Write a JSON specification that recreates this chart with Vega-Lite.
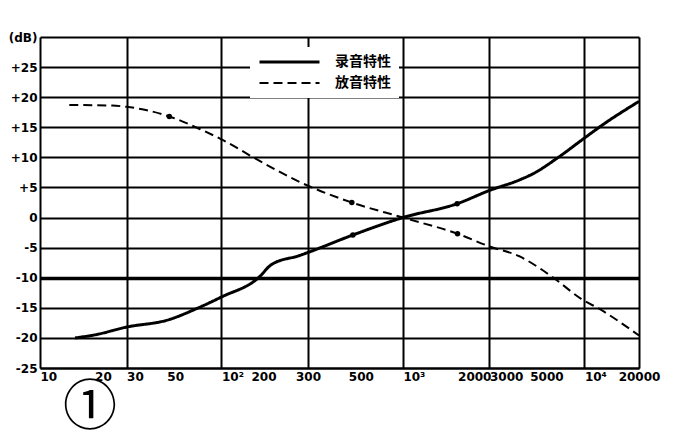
{
  "$schema": "https://vega.github.io/schema/vega-lite/v6.json",
  "width": 599,
  "height": 331,
  "autosize": {"type": "none"},
  "padding": {"left": 40, "top": 37, "right": 47, "bottom": 64},
  "background": "white",
  "config": {
    "view": {"stroke": null},
    "axis": {"labelFont": "DejaVu Sans", "labelFontWeight": "bold", "labelFontSize": 12, "labelColor": "black"}
  },
  "title": {"text": "①", "orient": "bottom", "anchor": "start", "frame": "group", "font": "Noto Sans CJK SC", "fontSize": 54, "fontWeight": "normal", "dx": 23, "offset": 0, "color": "black"},
  "datasets": {
    "curves": [
      {"f": 15.6, "db": -20, "s": "录音特性"},
      {"f": 20, "db": -19.5, "s": "录音特性"},
      {"f": 30, "db": -18.2, "s": "录音特性"},
      {"f": 50.9, "db": -17, "s": "录音特性"},
      {"f": 74.6, "db": -15, "s": "录音特性"},
      {"f": 100, "db": -13.2, "s": "录音特性"},
      {"f": 160, "db": -10, "s": "录音特性"},
      {"f": 189, "db": -7.8, "s": "录音特性"},
      {"f": 270, "db": -6.3, "s": "录音特性"},
      {"f": 300, "db": -5.8, "s": "录音特性"},
      {"f": 530, "db": -2.9, "s": "录音特性"},
      {"f": 1000, "db": 0, "s": "录音特性"},
      {"f": 1990, "db": 2.3, "s": "录音特性"},
      {"f": 3000, "db": 4.5, "s": "录音特性"},
      {"f": 4430, "db": 6.3, "s": "录音特性"},
      {"f": 5230, "db": 7.3, "s": "录音特性"},
      {"f": 7180, "db": 10, "s": "录音特性"},
      {"f": 10000, "db": 13.2, "s": "录音特性"},
      {"f": 12740, "db": 15.5, "s": "录音特性"},
      {"f": 20000, "db": 19.3, "s": "录音特性"},
      {"f": 14.5, "db": 18.7, "s": "放音特性"},
      {"f": 25, "db": 18.6, "s": "放音特性"},
      {"f": 30, "db": 18.4, "s": "放音特性"},
      {"f": 51.6, "db": 16.8, "s": "放音特性"},
      {"f": 78.6, "db": 14.5, "s": "放音特性"},
      {"f": 100, "db": 13, "s": "放音特性"},
      {"f": 156, "db": 9.7, "s": "放音特性"},
      {"f": 270, "db": 5.9, "s": "放音特性"},
      {"f": 523, "db": 2.5, "s": "放音特性"},
      {"f": 1000, "db": 0, "s": "放音特性"},
      {"f": 2000, "db": -2.7, "s": "放音特性"},
      {"f": 3000, "db": -4.8, "s": "放音特性"},
      {"f": 4430, "db": -6.5, "s": "放音特性"},
      {"f": 5720, "db": -8.5, "s": "放音特性"},
      {"f": 6750, "db": -10, "s": "放音特性"},
      {"f": 9600, "db": -13.5, "s": "放音特性"},
      {"f": 12440, "db": -15.4, "s": "放音特性"},
      {"f": 20000, "db": -19.6, "s": "放音特性"}
    ],
    "dots": [
      {"f": 51.6, "db": 16.8},
      {"f": 523, "db": 2.5},
      {"f": 530, "db": -2.9},
      {"f": 1990, "db": 2.3},
      {"f": 2000, "db": -2.7}
    ]
  },
  "layer": [
    {
      "data": {"name": "curves"},
      "mark": {"type": "line", "color": "black", "interpolate": "monotone"},
      "encoding": {
        "x": {
          "field": "f", "type": "quantitative",
          "scale": {"type": "log", "domain": [10, 20000], "nice": false},
          "axis": {
            "title": null,
            "values": [10, 20, 30, 50, 100, 200, 300, 500, 1000, 2000, 3000, 5000, 10000, 20000],
            "tickCount": 30,
            "labelExpr": "datum.value == 100 ? '10²' : datum.value == 1000 ? '10³' : datum.value == 10000 ? '10⁴' : toString(datum.value)",
            "labelOverlap": false,
            "labelFlush": false,
            "labelPadding": 3,
            "labelAlign": {"condition": [{"test": "datum.value == 200", "value": "right"}, {"test": "datum.value == 300 || datum.value == 20000", "value": "center"}], "value": "left"},
            "labelDx": {"condition": [{"test": "datum.value == 20 || datum.value == 50", "value": 8}, {"test": "datum.value == 2000 || datum.value == 3000", "value": 2}], "value": 0},
            "ticks": false,
            "domain": true, "domainColor": "black", "domainWidth": 2,
            "grid": true, "gridColor": "black", "gridWidth": 2,
            "gridOpacity": {"condition": {"test": "indexof([30,100,300,1000,3000,10000,20000], datum.value) >= 0", "value": 1}, "value": 0}
          }
        },
        "y": {
          "field": "db", "type": "quantitative",
          "scale": {"domain": [-25, 30], "nice": false},
          "axis": {
            "title": null,
            "values": [-25, -20, -15, -10, -5, 0, 5, 10, 15, 20, 25, 30],
            "tickCount": 30,
            "labelExpr": "datum.value == 30 ? '(dB)' : datum.value > 0 ? '+' + datum.value : toString(datum.value)",
            "labelOverlap": false,
            "labelFlush": false,
            "labelPadding": 3,
            "ticks": false,
            "domain": true, "domainColor": "black", "domainWidth": 2,
            "grid": true, "gridColor": "black",
            "gridWidth": {"condition": {"test": "datum.value == -10", "value": 3.5}, "value": 2}
          }
        },
        "strokeDash": {
          "field": "s", "type": "nominal",
          "scale": {"domain": ["录音特性", "放音特性"], "range": [[1, 0], [9, 5]]},
          "legend": {
            "title": null, "orient": "none", "legendX": 210, "legendY": 10,
            "fillColor": "white", "padding": 8,
            "symbolType": "stroke", "symbolSize": 3600, "symbolStrokeWidth": 3, "symbolStrokeColor": "black",
            "clipHeight": 14,
            "labelFont": "Noto Sans CJK SC", "labelFontSize": 14, "labelFontWeight": "bold", "labelColor": "black",
            "labelOffset": 14, "rowPadding": 7
          }
        },
        "strokeWidth": {
          "field": "s", "type": "nominal",
          "scale": {"domain": ["录音特性", "放音特性"], "range": [3, 2]},
          "legend": null
        }
      }
    },
    {
      "data": {"name": "dots"},
      "mark": {"type": "circle", "color": "black", "opacity": 1, "size": 30},
      "encoding": {
        "x": {"field": "f", "type": "quantitative"},
        "y": {"field": "db", "type": "quantitative"}
      }
    }
  ]
}
